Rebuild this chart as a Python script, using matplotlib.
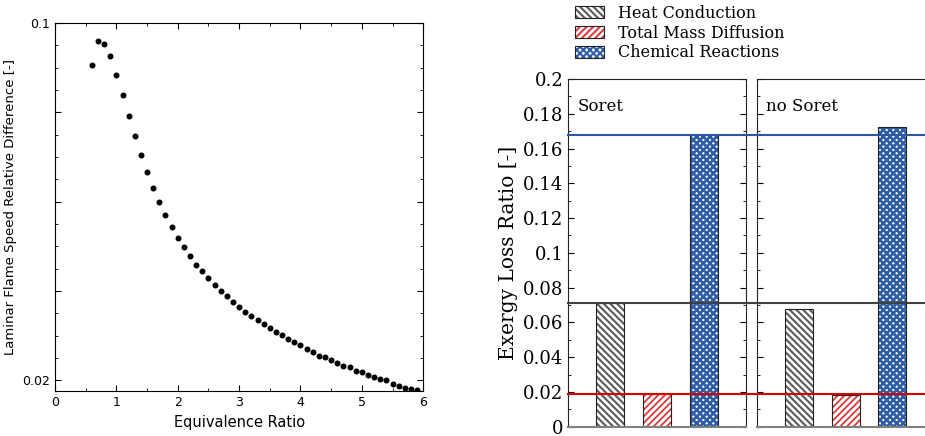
import numpy as np
import matplotlib
matplotlib.use("Agg")
import matplotlib.pyplot as plt
from matplotlib.patches import Patch
from matplotlib.legend_handler import HandlerTuple
from matplotlib.ticker import MultipleLocator, FixedLocator, FixedFormatter, FuncFormatter

# left panel data
phi = [0.6, 0.7, 0.8, 0.9, 1.0, 1.1, 1.2, 1.3, 1.4, 1.5, 1.6, 1.7, 1.8, 1.9,
       2.0, 2.1, 2.2, 2.3, 2.4, 2.5, 2.6, 2.7, 2.8, 2.9, 3.0, 3.1, 3.2, 3.3,
       3.4, 3.5, 3.6, 3.7, 3.8, 3.9, 4.0, 4.1, 4.2, 4.3, 4.4, 4.5, 4.6, 4.7,
       4.8, 4.9, 5.0, 5.1, 5.2, 5.3, 5.4, 5.5, 5.6, 5.7, 5.8, 5.9]
sl_diff = [0.0906, 0.0960, 0.0954, 0.0927, 0.0883, 0.0839, 0.0792, 0.0747,
           0.0705, 0.0667, 0.0631, 0.0599, 0.0570, 0.0543, 0.0519, 0.0498,
           0.0479, 0.0459, 0.0444, 0.0429, 0.0414, 0.0400, 0.0388, 0.0376,
           0.0364, 0.0354, 0.0345, 0.0335, 0.0326, 0.0317, 0.0308, 0.0301,
           0.0293, 0.0286, 0.0279, 0.0271, 0.0264, 0.0255, 0.0253, 0.0246,
           0.0238, 0.0233, 0.0229, 0.0222, 0.0219, 0.0213, 0.0208, 0.0204,
           0.0201, 0.0193, 0.0187, 0.0183, 0.0180, 0.0178]

# right panel data
categories = ["Heat Conduction", "Total Mass Diffusion", "Chemical Reactions"]
soret = [0.0709, 0.0186, 0.1678]
no_soret = [0.0675, 0.0180, 0.1724]
ref_lines = [0.1678, 0.0709, 0.0188]

hatch_colors = ["#5a5a5a", "#d93a3a", "#2f5ea6"]
hatches = ["\\\\\\\\\\", "/////", "xxxxx"]
hatch_lw = [1.5, 1.3, 1.9]
line_colors = ["#2c5a9e", "#404040", "#d80000"]

plt.rcParams["hatch.linewidth"] = 1.5


def hatched(patch, lw):
    if hasattr(patch, "set_hatch_linewidth"):
        patch.set_hatch_linewidth(lw)
    return patch


fig = plt.figure(figsize=(9.25, 4.36), dpi=100)

# ---- left plot
ax = fig.add_axes([0.0595, 0.103, 0.398, 0.844])
ax.plot(phi, sl_diff, "o", color="black", markersize=3.3)
ax.set_xlim(0, 6)
ax.set_ylim(0.0176, 0.1)
ax.xaxis.set_major_locator(MultipleLocator(1))
ax.xaxis.set_minor_locator(MultipleLocator(0.5))
ax.yaxis.set_major_locator(FixedLocator([0.02, 0.04, 0.06, 0.08, 0.1]))
ax.yaxis.set_major_formatter(FixedFormatter(["0.02", "", "", "", "0.1"]))
ax.yaxis.set_minor_locator(MultipleLocator(0.005))
ax.tick_params(which="both", direction="in", top=True, right=True, labelsize=9)
ax.tick_params(which="major", length=4)
ax.tick_params(which="minor", length=2)
ax.set_xlabel("Equivalence Ratio", fontsize=10.5)
ax.set_ylabel("Laminar Flame Speed Relative Difference [-]", fontsize=9.5)

# ---- right plots
serif = "DejaVu Serif"
pos = [1, 2, 3]
axes = []
for i, (vals, label) in enumerate([(soret, "Soret"), (no_soret, "no Soret")]):
    left = 0.6144 + i * 0.204
    a = fig.add_axes([left, 0.0213, 0.1918, 0.7975])
    for p, v, hc, h, lw in zip(pos, vals, hatch_colors, hatches, hatch_lw):
        b = a.bar(p, v, width=0.6, color="white", edgecolor=hc, hatch=h, linewidth=0)
        for r in b:
            hatched(r, lw)
        a.bar(p, v, width=0.6, color="none", edgecolor="#222222", linewidth=0.8)
    a.set_xlim(0.1, 3.9)
    a.set_ylim(0, 0.2)
    a.set_xticks([])
    a.yaxis.set_major_locator(MultipleLocator(0.02))
    a.yaxis.set_minor_locator(MultipleLocator(0.01))
    a.tick_params(which="both", direction="in", left=True, right=True)
    a.tick_params(which="major", length=4)
    a.tick_params(which="minor", length=2)
    a.text(0.05, 0.92, label, transform=a.transAxes, fontsize=12,
           family=serif, va="center", ha="left")
    for s in a.spines.values():
        s.set_color("#222222")
    a.spines["bottom"].set_color("#808080")
    a.spines["bottom"].set_linewidth(1.5)
    for y, c in zip(ref_lines, line_colors):
        a.axhline(y, xmin=0, xmax=1.2, color=c, linewidth=1.5, clip_on=False, zorder=5)
    axes.append(a)

ax1, ax2 = axes
ax1.yaxis.set_major_formatter(FuncFormatter(lambda v, p: "%g" % round(v, 3)))
for t in ax1.get_yticklabels():
    t.set_family(serif)
ax1.tick_params(labelsize=13)
ax2.tick_params(labelleft=False)
ax1.set_ylabel("Exergy Loss Ratio [-]", fontsize=14.5, family=serif)

handles = []
for hc, h, lw in zip(hatch_colors, hatches, hatch_lw):
    handles.append((hatched(Patch(facecolor="white", edgecolor=hc, hatch=h, linewidth=0), lw),
                    Patch(facecolor="none", edgecolor="#222222", linewidth=0.8)))
fig.legend(handles, categories, handler_map={tuple: HandlerTuple(ndivide=1, pad=0)},
           loc="upper left", bbox_to_anchor=(0.615, 1.004), frameon=False,
           prop={"family": serif, "size": 11.5}, handlelength=1.8, handleheight=0.8,
           labelspacing=0.18, handletextpad=0.9, borderaxespad=0)

fig.savefig("out.png", dpi=100)
